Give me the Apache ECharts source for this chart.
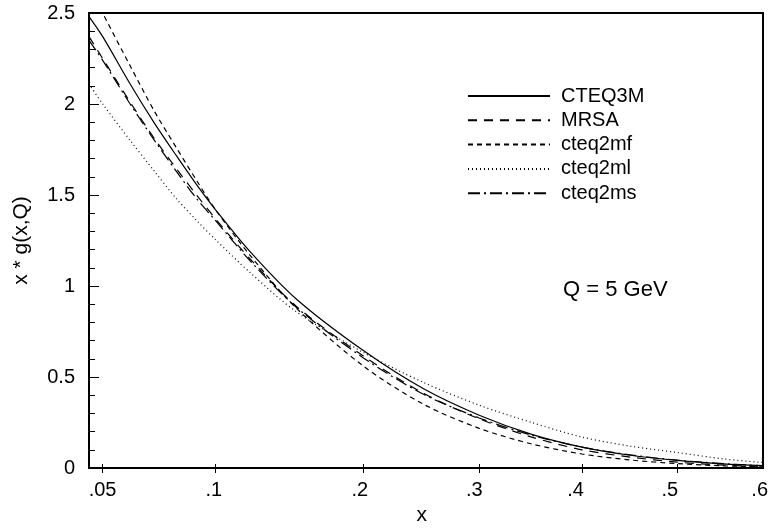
<!DOCTYPE html>
<html>
<head>
<meta charset="utf-8">
<script src="https://cdn.jsdelivr.net/npm/echarts@6/dist/echarts.min.js"></script>
<style>html,body{margin:0;padding:0;background:#fff}#c{width:771px;height:531px}</style>
</head>
<body>
<div id="c"></div>
<script>
// x grid (momentum fraction)
const xs = [0.0455, 0.05, 0.06, 0.07, 0.08, 0.09, 0.1, 0.12, 0.15, 0.2, 0.25, 0.3, 0.35, 0.4, 0.45, 0.5, 0.55, 0.594];
// x * g(x,Q) at Q = 5 GeV
const cteq3m  = [2.48, 2.37, 2.11, 1.895, 1.716, 1.557, 1.42, 1.19, 0.93, 0.645, 0.435, 0.29, 0.185, 0.115, 0.07, 0.042, 0.023, 0.013];
const mrsa    = [2.37, 2.25, 2.01, 1.81, 1.645, 1.50, 1.37, 1.15, 0.89, 0.615, 0.41, 0.27, 0.17, 0.10, 0.06, 0.032, 0.016, 0.008];
const cteq2mf = [2.66, 2.50, 2.21, 1.96, 1.76, 1.58, 1.42, 1.17, 0.88, 0.56, 0.35, 0.218, 0.132, 0.077, 0.044, 0.024, 0.012, 0.006];
const cteq2ml = [2.11, 2.00, 1.80, 1.63, 1.48, 1.36, 1.255, 1.075, 0.86, 0.635, 0.47, 0.345, 0.25, 0.17, 0.12, 0.085, 0.05, 0.03];
const cteq2ms = [2.35, 2.24, 2.00, 1.80, 1.63, 1.48, 1.36, 1.14, 0.885, 0.605, 0.405, 0.275, 0.18, 0.115, 0.072, 0.043, 0.024, 0.012];
// axis ticks
const xTickVals = [0.05, 0.1, 0.2, 0.3, 0.4, 0.5, 0.6];
const xTickLabels = ['.05', '.1', '.2', '.3', '.4', '.5', '.6'];
const xMin = 0.0455, xMax = 0.594, xLabelMax = 0.6;

// axis scale used by the original plot: ln(x) + K*x
const K = 6.32;
const tx = x => Math.log(x) + K * x;
const pairs = arr => xs.map((x, i) => [tx(x), arr[i]]);

const tickU = xTickVals.map(tx);
const fmtX = v => {
  let best = 0, d = Infinity;
  tickU.forEach((u, i) => { const e = Math.abs(u - v); if (e < d) { d = e; best = i; } });
  return xTickLabels[best];
};

// plot box
const W = 771, H = 531, L = 89, R = 8, T = 13, B = 63;
const plotW = W - L - R;
const pxPerU = plotW / (tx(xMax) - tx(xMin));
const labelW = pxPerU * (tx(xLabelMax) - tx(xMin));

const FONT = 'Liberation Sans, Arial, sans-serif';
const mk = (name, data, type) => ({
  name, type: 'line', data: pairs(data), smooth: 0.3, showSymbol: false, symbol: 'none',
  xAxisIndex: 0, yAxisIndex: 0,
  itemStyle: { color: '#000' },
  lineStyle: { color: '#000', width: 1.2, type }, clip: true, animation: false
});

const chart = echarts.init(document.getElementById('c'), null, { renderer: 'canvas' });
chart.setOption({
  animation: false,
  backgroundColor: '#fff',
  title: {
    text: 'Q = 5 GeV', left: 563, top: 279, padding: 0,
    textStyle: { fontFamily: FONT, fontSize: 22, fontWeight: 'normal', color: '#000' }
  },
  grid: [
    { left: L, right: R, top: T, bottom: B, show: true, borderColor: '#000', borderWidth: 2, backgroundColor: 'transparent' },
    { left: L, width: labelW, top: T, bottom: B, show: false }
  ],
  legend: {
    orient: 'vertical', left: 467, top: 86, padding: 0, itemWidth: 82, itemHeight: 14, itemGap: 4.3,
    itemStyle: { opacity: 0 },
    textStyle: { fontFamily: FONT, fontSize: 20, color: '#000', padding: [0, 0, 0, 6] },
    data: ['CTEQ3M', 'MRSA', 'cteq2mf', 'cteq2ml', 'cteq2ms']
  },
  xAxis: [{
    type: 'value', min: tx(xMin), max: tx(xMax), gridIndex: 0,
    axisLine: { show: true, onZero: false, lineStyle: { color: '#000', width: 1.5 } },
    axisTick: { show: true, inside: false, length: 5, customValues: tickU, lineStyle: { color: '#000', width: 1 } },
    axisLabel: { show: false },
    splitLine: { show: false }
  }, {
    type: 'value', min: tx(xMin), max: tx(xMax), position: 'bottom', gridIndex: 0,
    axisLine: { show: false, onZero: false },
    axisTick: { show: true, inside: true, length: 4, customValues: tickU, lineStyle: { color: '#000', width: 1 } },
    axisLabel: { show: false },
    splitLine: { show: false }
  }, {
    type: 'value', min: tx(xMin), max: tx(xLabelMax), position: 'bottom', gridIndex: 1,
    name: 'x', nameLocation: 'middle', nameGap: 42,
    nameTextStyle: { fontFamily: FONT, fontSize: 21, color: '#000', padding: [0, labelW - plotW, 0, 0] },
    axisLine: { show: false, onZero: false },
    axisTick: { show: false },
    axisLabel: { show: true, customValues: tickU, formatter: fmtX, margin: 17, fontFamily: FONT, fontSize: 20, color: '#000', showMaxLabel: true, showMinLabel: true },
    splitLine: { show: false }
  }],
  yAxis: [{
    type: 'value', min: 0, max: 2.5, interval: 0.5, gridIndex: 0,
    name: 'x * g(x,Q)', nameLocation: 'middle', nameGap: 57, nameRotate: 90,
    nameTextStyle: { fontFamily: FONT, fontSize: 21, color: '#000' },
    axisLine: { show: true, onZero: false, lineStyle: { color: '#000', width: 2 } },
    axisTick: { show: true, inside: true, length: 10, lineStyle: { color: '#000', width: 1 } },
    minorTick: { show: true, splitNumber: 5, length: 6, lineStyle: { color: '#000', width: 1 } },
    axisLabel: { margin: 14, fontFamily: FONT, fontSize: 20, color: '#000' },
    splitLine: { show: false }, minorSplitLine: { show: false }
  }, {
    type: 'value', min: 0, max: 2.5, gridIndex: 1, show: false
  }],
  series: [
    mk('CTEQ3M', cteq3m, 'solid'),
    mk('MRSA', mrsa, [9, 7]),
    mk('cteq2mf', cteq2mf, [5, 4]),
    mk('cteq2ml', cteq2ml, [1, 3]),
    mk('cteq2ms', cteq2ms, [12, 4, 2, 4])
  ]
});
</script>
</body>
</html>
